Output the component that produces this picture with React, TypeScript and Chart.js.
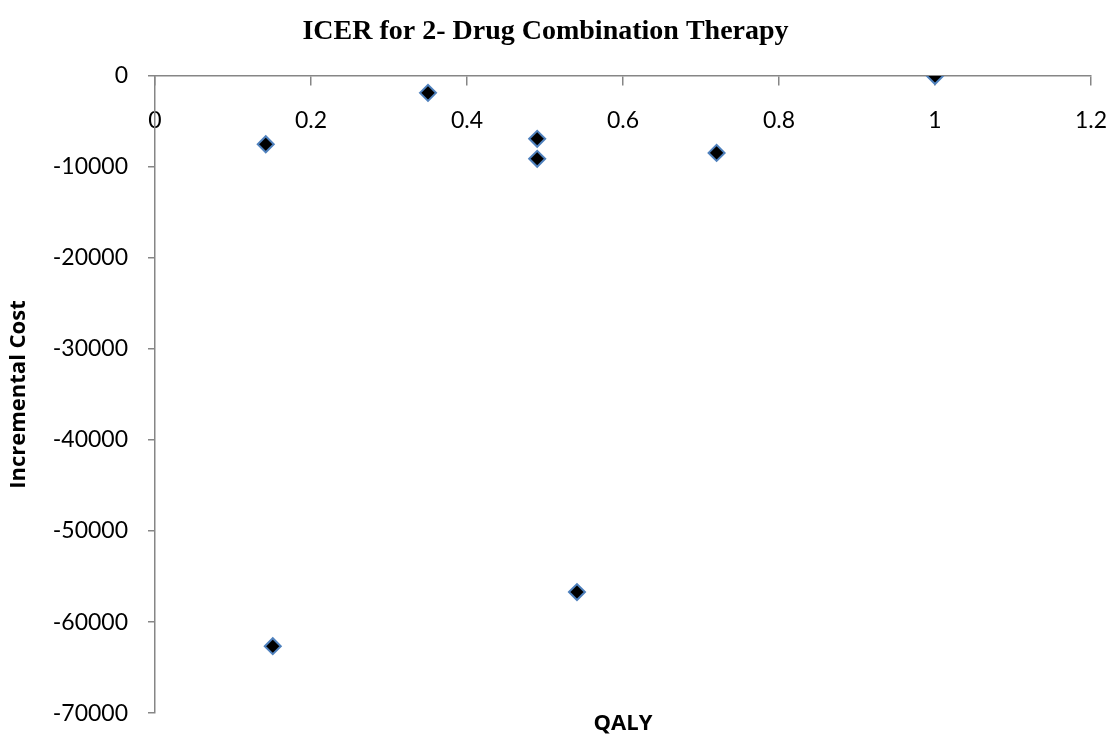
import React, { useEffect, useRef } from "react";
import { Chart, registerables } from "chart.js";

Chart.register(...registerables);

const qaly = [0.142, 0.35, 0.49, 0.49, 0.72, 1.0, 0.151, 0.541];
const incrementalCost = [-7500, -1850, -6900, -9100, -8450, 0, -62650, -56700];
const xTicks = [0, 0.2, 0.4, 0.6, 0.8, 1, 1.2];
const yTicks = [0, -10000, -20000, -30000, -40000, -50000, -60000, -70000];

const titleText = "ICER for 2- Drug Combination Therapy";
const xTitle = "QALY";
const yTitle = "Incremental Cost";

export default function App() {
  const ref = useRef<HTMLCanvasElement | null>(null);
  useEffect(() => {
    if (!ref.current) return;
    const axisColor = "#868686";
    const tickFont = { family: "Lato", size: 23 };
    const chart = new Chart(ref.current, {
      type: "scatter",
      data: {
        datasets: [
          {
            data: qaly.map((x, i) => ({ x, y: incrementalCost[i] })),
            pointStyle: "rectRot",
            pointRadius: 8,
            pointHoverRadius: 8,
            backgroundColor: "#000000",
            borderColor: "#4F81BD",
            borderWidth: 2,
          },
        ],
      },
      options: {
        animation: false,
        responsive: true,
        maintainAspectRatio: false,
        layout: { padding: { left: 0, right: 21, top: 0, bottom: 0 } },
        plugins: {
          legend: { display: false },
          tooltip: { enabled: false },
          title: {
            display: true,
            text: titleText,
            color: "#000000",
            font: { family: "Liberation Serif", size: 28, weight: "bold", lineHeight: 1.2 },
            padding: { top: 15, bottom: 27.4 },
          },
          subtitle: {
            display: true,
            text: xTitle,
            position: "bottom",
            fullSize: false,
            color: "#000000",
            font: { family: "Open Sans", size: 22, weight: "bold", lineHeight: 0.95 },
            padding: { top: 0, bottom: 0 },
          },
        },
        scales: {
          x: {
            type: "linear",
            position: { y: 0 },
            min: 0,
            max: 1.2,
            afterBuildTicks: (scale: any) => {
              scale.ticks = xTicks.map((v) => ({ value: v }));
            },
            afterFit: (scale: any) => {
              scale.paddingLeft = 0;
              scale.paddingRight = 0;
            },
            ticks: {
              color: "#000000",
              font: tickFont,
              padding: 22,
              maxRotation: 0,
              callback: (v: any) => String(v),
            },
            grid: {
              drawOnChartArea: false,
              drawTicks: true,
              tickLength: 9,
              color: axisColor,
              lineWidth: 1.5,
            },
            border: { display: true, color: axisColor, width: 1.5 },
          },
          y: {
            type: "linear",
            position: "left",
            min: -70000,
            max: 0,
            afterBuildTicks: (scale: any) => {
              scale.ticks = yTicks.map((v) => ({ value: v }));
            },
            afterFit: (scale: any) => {
              scale.width = 155;
              scale.paddingTop = 0;
              scale.paddingBottom = 0;
            },
            ticks: {
              color: "#000000",
              font: tickFont,
              padding: 20,
              callback: (v: any) => String(v),
            },
            grid: {
              drawOnChartArea: false,
              drawTicks: true,
              tickLength: 7,
              color: axisColor,
              lineWidth: 1.5,
            },
            border: { display: true, color: axisColor, width: 1.5 },
            title: {
              display: true,
              text: yTitle,
              color: "#000000",
              font: { family: "Open Sans", size: 22, weight: "bold", lineHeight: 1.2 },
              padding: { top: 6, bottom: 0 },
            },
          },
        },
      },
    });
    return () => chart.destroy();
  }, []);
  return (
    <div style={{ position: "fixed", left: 0, top: 0, width: 1112, height: 734, background: "#ffffff" }}>
      <canvas ref={ref} />
    </div>
  );
}
